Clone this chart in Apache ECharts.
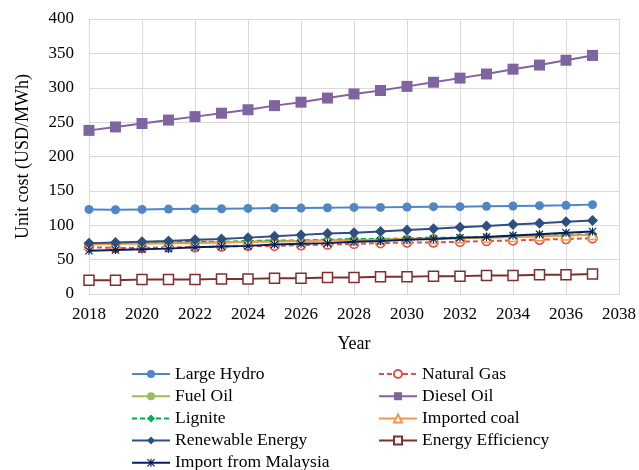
<!DOCTYPE html>
<html>
<head>
<meta charset="utf-8">
<script src="https://cdn.jsdelivr.net/npm/echarts@6/dist/echarts.min.js"></script>
<style>
  html, body { margin: 0; padding: 0; background: #fff; }
  #chart { width: 639px; height: 470px; }
</style>
</head>
<body>
<div id="chart"></div>
<script>
// Projected unit cost of electricity by source, 2018-2037
const years = [2018, 2019, 2020, 2021, 2022, 2023, 2024, 2025, 2026, 2027,
               2028, 2029, 2030, 2031, 2032, 2033, 2034, 2035, 2036, 2037];

const largeHydro = [123, 122.5, 123, 123.5, 124, 124, 124.5, 125, 125, 125.5,
                    126, 126, 126.5, 127, 127, 127.5, 128, 128.5, 129, 130];
const naturalGas = [68, 67, 67, 68, 68, 69, 70, 70, 71, 72,
                    73, 74, 75, 75, 76, 77, 78, 79, 80, 81];
const fuelOil = [73, 73, 74, 74, 75, 75, 76, 77, 77, 78,
                 79, 79, 80, 81, 81, 82, 83, 84, 85, 86];
const dieselOil = [238, 243, 248, 253, 258, 263, 268, 274, 279, 285,
                   291, 296, 302, 308, 314, 320, 327, 333, 340, 347];
const lignite = [74, 74, 75, 75, 76, 76, 77, 78, 78, 79,
                 80, 80, 81, 82, 82, 83, 84, 85, 86, 87];
const importedCoal = [72, 73, 73, 74, 74, 75, 76, 76, 77, 78,
                      78, 79, 80, 80, 81, 82, 83, 84, 85, 86];
const renewable = [74, 75, 76, 77, 79, 80, 82, 84, 86, 88,
                   89, 91, 93, 95, 97, 99, 101, 103, 105, 107];
const energyEfficiency = [20, 20, 21, 21, 21, 22, 22, 23, 23, 24,
                          24, 25, 25, 26, 26, 27, 27, 28, 28, 29];
const importMalaysia = [63, 64, 65, 66, 68, 69, 70, 72, 73, 74,
                        76, 77, 79, 80, 82, 83, 85, 87, 89, 91];

const yTicks = { min: 0, max: 400, interval: 50 };
const xTicks = { min: 2018, max: 2038, interval: 2 };

const FONT = 'Liberation Serif';
const asterisk = 'path://M4.3,0 L5.7,0 L5.7,10 L4.3,10 Z M0,1 L1,0 L10,9 L9,10 Z M9,0 L10,1 L1,10 L0,9 Z';

function pairs(vals) { return years.map((y, i) => [y, vals[i]]); }

function lineSeries(name, vals, color, symbol, opts) {
  opts = opts || {};
  return {
    name: name,
    type: 'line',
    data: pairs(vals),
    symbol: symbol,
    symbolSize: opts.size || 8,
    showAllSymbol: true,
    z: opts.z || 2,
    lineStyle: { color: color, width: 2, type: opts.dashed ? [5, 3] : 'solid' },
    itemStyle: {
      color: opts.hollow ? '#ffffff' : color,
      borderColor: color,
      borderWidth: opts.hollow ? 1.5 : 0
    },
    emphasis: { disabled: true },
    animation: false
  };
}

const series = [
  lineSeries('Large Hydro', largeHydro, '#4F86C6', 'circle', { size: 9 }),
  lineSeries('Natural Gas', naturalGas, '#D9534A', 'circle', { hollow: true, dashed: true, size: 9 }),
  lineSeries('Fuel Oil', fuelOil, '#9BBB59', 'circle', { size: 8 }),
  lineSeries('Diesel Oil', dieselOil, '#8064A2', 'rect', { size: 11 }),
  lineSeries('Lignite', lignite, '#00B050', 'diamond', { dashed: true, size: 10 }),
  lineSeries('Imported coal', importedCoal, '#F79646', 'triangle', { hollow: true, size: 9 }),
  lineSeries('Renewable Energy', renewable, '#2E4F7F', 'diamond', { size: 11 }),
  lineSeries('Energy Efficiency', energyEfficiency, '#7F2F2F', 'rect', { hollow: true, size: 10 }),
  lineSeries('Import from Malaysia', importMalaysia, '#002060', asterisk, { size: 8, z: 3 })
];

const leftNames = ['Large Hydro', 'Fuel Oil', 'Lignite', 'Renewable Energy', 'Import from Malaysia'];
const rightNames = ['Natural Gas', 'Diesel Oil', 'Imported coal', 'Energy Efficiency'];

function legendAt(names, left) {
  return {
    data: names,
    orient: 'vertical',
    left: left,
    top: 365,
    height: 110,
    width: 250,
    padding: 0,
    itemWidth: 38,
    itemHeight: 10,
    itemGap: 4.2,
    selectedMode: false,
    textStyle: { fontFamily: FONT, fontSize: 17.5, color: '#000', lineHeight: 17.5 }
  };
}

const chart = echarts.init(document.getElementById('chart'), null, { renderer: 'canvas' });
chart.setOption({
  backgroundColor: '#ffffff',
  animation: false,
  grid: { left: 89, right: 18, top: 19, bottom: 176, containLabel: false },
  legend: [legendAt(leftNames, 131), legendAt(rightNames, 378)],
  xAxis: {
    type: 'value',
    min: xTicks.min, max: xTicks.max, interval: xTicks.interval,
    name: 'Year',
    nameLocation: 'middle',
    nameGap: 41,
    nameTextStyle: { fontFamily: FONT, fontSize: 18, color: '#000' },
    axisLine: { show: true, lineStyle: { color: '#d9d9d9', width: 1 } },
    axisTick: { show: false },
    axisLabel: { fontFamily: FONT, fontSize: 17, color: '#000', margin: 12,
                 formatter: v => String(v) },
    splitLine: { show: true, lineStyle: { color: '#d9d9d9', width: 1 } }
  },
  yAxis: {
    type: 'value',
    min: yTicks.min, max: yTicks.max, interval: yTicks.interval,
    name: 'Unit cost (USD/MWh)',
    nameLocation: 'middle',
    nameGap: 57,
    nameTextStyle: { fontFamily: FONT, fontSize: 18, color: '#000' },
    axisLine: { show: true, lineStyle: { color: '#d9d9d9', width: 1 } },
    axisTick: { show: false },
    axisLabel: { fontFamily: FONT, fontSize: 17, color: '#000', margin: 15 },
    splitLine: { show: true, lineStyle: { color: '#d9d9d9', width: 1 } }
  },
  series: series
});
</script>
</body>
</html>
